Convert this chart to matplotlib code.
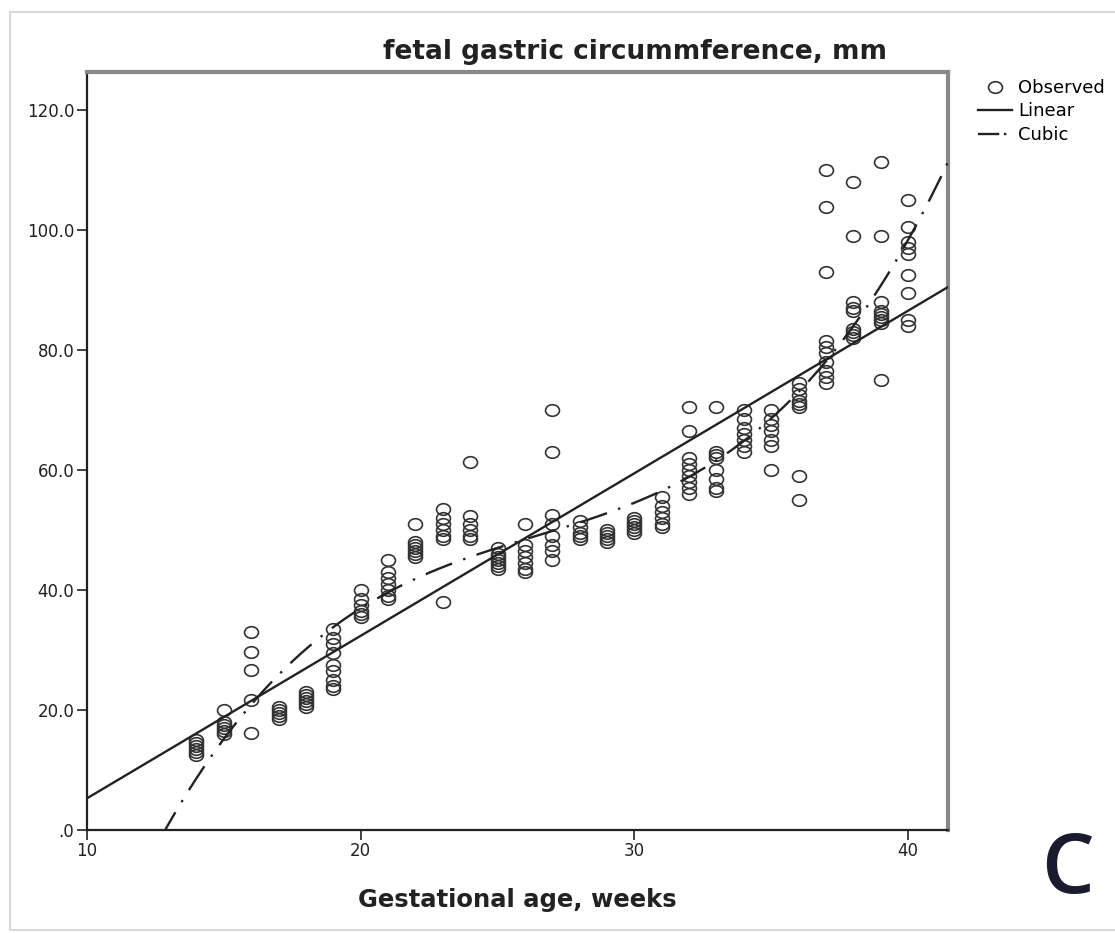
import numpy as np
import matplotlib.pyplot as plt
from matplotlib.path import Path
from matplotlib.transforms import Affine2D
from matplotlib.patches import Rectangle
from matplotlib.lines import Line2D

plt.rcParams['font.family'] = ['DejaVu Sans']

# observed gastric circumference (mm) per gestational week
weeks = [14, 15, 16, 17, 18, 19, 20, 21, 22, 23, 24, 25, 26, 27,
         28, 29, 30, 31, 32, 33, 34, 35, 36, 37, 38, 39, 40]
gc_values = [
    [12.5, 13, 13.5, 14, 14.5, 15],
    [20, 18, 17.5, 17, 16.5, 16],
    [33, 29.7, 26.7, 21.7, 16.2],
    [18.5, 19, 19.5, 20, 20.5],
    [20.5, 21, 21.5, 22, 22.5, 23],
    [33.5, 32, 31, 29.5, 27.5, 26.5, 25, 24, 23.5],
    [40, 38.5, 37.5, 36.5, 36, 35.5],
    [45, 43, 42, 41, 40, 39, 38.5],
    [51, 48, 47.5, 47, 46.5, 46, 45.5],
    [53.5, 52, 51, 50, 49, 48.5, 38],
    [61.3, 52.3, 51, 50, 49, 48.5],
    [47, 46, 45.5, 45, 44.5, 44, 43.5],
    [51, 47.5, 46.5, 45.5, 44.5, 43.5, 43],
    [70, 63, 52.5, 51, 49, 47.5, 46.5, 45],
    [51.5, 50.5, 49.5, 49, 48.5],
    [50, 49.5, 49, 48.5, 48],
    [52, 51.5, 51, 50.5, 50, 49.5],
    [55.5, 54, 53, 52, 51, 50.5],
    [70.5, 66.5, 62, 61, 60, 59, 58, 57, 56],
    [70.5, 63, 62.5, 62, 60, 58.5, 57, 56.5],
    [70, 68.5, 67, 66, 65, 64, 63],
    [70, 68.5, 67.5, 66.5, 65, 64, 60],
    [74.5, 73.5, 72.5, 71.5, 71, 70.5, 59, 55],
    [110, 103.8, 93, 81.5, 80.5, 79.5, 78, 76.5, 75.5, 74.5],
    [108, 99, 88, 87, 86.5, 83.5, 83, 82.5, 82],
    [111.3, 99, 88, 86.5, 86, 85.5, 85, 84.5, 75],
    [105, 100.5, 98, 97, 96, 92.5, 89.5, 85, 84],
]

# linear fit
lin_intercept = -21.8
lin_slope = 2.708

# points
cubic_x = [12.86, 14.2, 14.9, 17.7, 18.9, 20.6, 23.5, 25.4, 29.1, 31.2,
           32.4, 33.4, 34.5, 35.6, 36.5, 37.4, 38.5, 39.1, 39.7, 40.4, 41.2]
cubic_y = [0, 9.7, 15, 29.2, 33.3, 38.3, 44.5, 47.7, 53.2, 57,
           60, 62.8, 66.7, 70.8, 75.5, 80.5, 86.7, 91, 96.7, 101.7, 108.7]

xs, ys = [], []
for w, vals in zip(weeks, gc_values):
    xs += [w] * len(vals)
    ys += vals

fig = plt.figure(figsize=(11.15, 9.33), dpi=100)
ax = fig.add_axes([87/1115, 1 - 830/933, (948 - 87)/1115, (830 - 72)/933])

ell = Path.unit_circle().transformed(Affine2D().scale(1.2, 1.0))
ax.plot(xs, ys, linestyle='none', marker=ell, markersize=10,
        mfc='none', mec='#333333', mew=1.2, zorder=2)

xline = np.linspace(10, 41.46, 200)
ax.plot(xline, lin_intercept + lin_slope * xline, color='#222222', lw=1.7, zorder=3)

coef = np.polyfit(cubic_x, cubic_y, 3)
ax.plot(xline, np.polyval(coef, xline), color='#222222', lw=1.7,
        linestyle=(0, (12, 5, 1, 5)), zorder=3)

ax.set_xlim(10, 41.46)
ax.set_ylim(0, 126.3)
ax.set_xticks([10, 20, 30, 40])
ax.set_yticks([0, 20, 40, 60, 80, 100, 120])
ax.set_yticklabels(['.0', '20.0', '40.0', '60.0', '80.0', '100.0', '120.0'])
ax.tick_params(axis='both', direction='out', length=7, width=1.2,
               labelsize=12, colors='#222222', pad=2)
for s in ['top', 'right']:
    ax.spines[s].set_color('#888888')
    ax.spines[s].set_linewidth(3)
for s in ['left', 'bottom']:
    ax.spines[s].set_color('#222222')
    ax.spines[s].set_linewidth(1.6)

ax.set_xlabel('Gestational age, weeks', fontsize=17.5, fontweight='bold',
              color='#222222', labelpad=20)
fig.text(635/1115, 1 - 52/933, 'fetal gastric circummference, mm',
         fontsize=19, fontweight='bold', color='#222222', ha='center', va='center')

handles = [
    Line2D([], [], linestyle='none', marker=ell, markersize=10, mfc='none',
           mec='#333333', mew=1.2),
    Line2D([], [], color='#222222', lw=1.7),
    Line2D([], [], color='#222222', lw=1.7, linestyle=(0, (9, 2, 1, 20))),
]
fig.legend(handles, ['Observed', 'Linear', 'Cubic'], loc='upper left',
           bbox_to_anchor=(969/1115, 1 - 70/933), frameon=False, fontsize=13,
           handlelength=1.9, handletextpad=0.3, labelspacing=0.3, borderpad=0)

fig.text(1067/1115, 1 - 871/933, 'C', fontsize=60, color='#1b1b30',
         family='Open Sans', fontweight='semibold', ha='center', va='center')

fig.add_artist(Rectangle((10/1115, 3/933), 1.2, (933 - 15)/933,
                         transform=fig.transFigure, fill=False,
                         ec='#d8d8d8', lw=1.5))

fig.savefig('out.png', dpi=100)
